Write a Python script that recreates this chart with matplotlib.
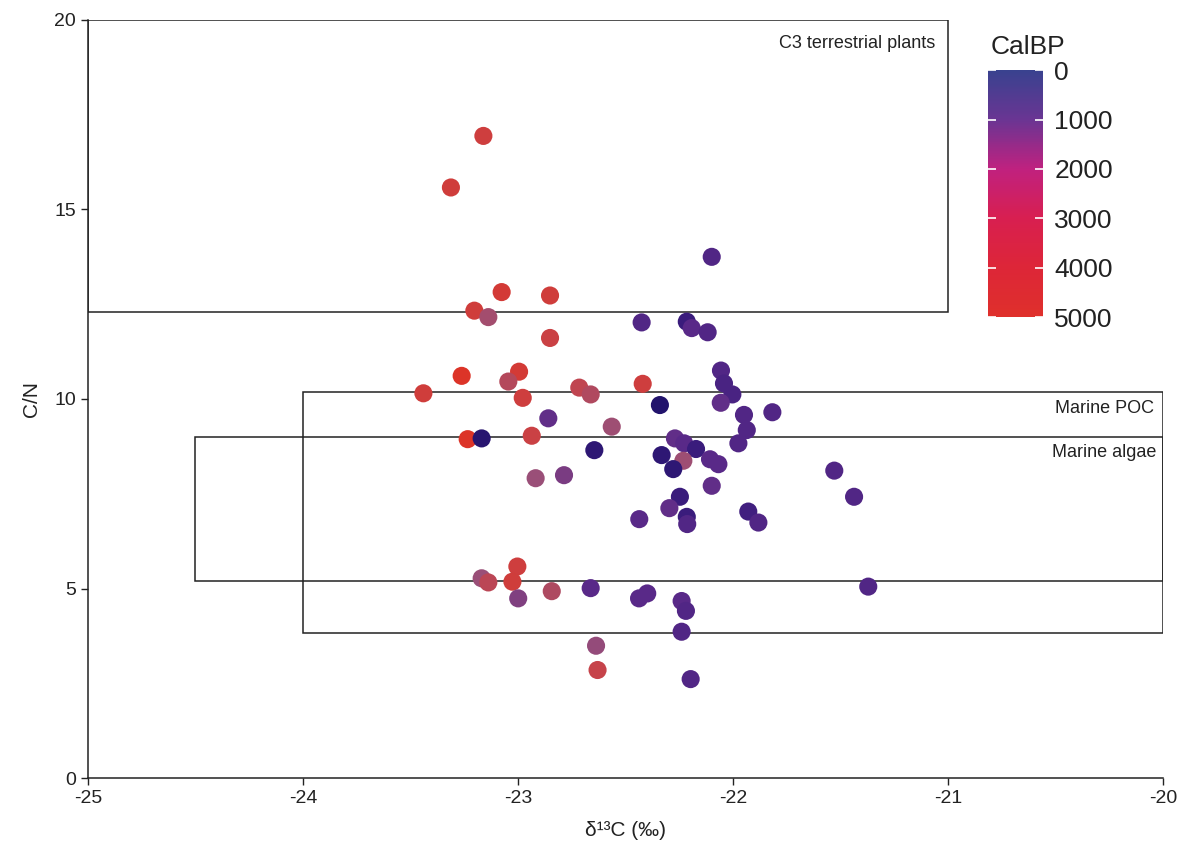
import matplotlib
matplotlib.use("Agg")
import matplotlib.pyplot as plt
from matplotlib.colors import LinearSegmentedColormap, Normalize
from matplotlib.cm import ScalarMappable
from matplotlib.patches import Rectangle
import numpy as np

plt.rcParams['font.family'] = ['Liberation Sans', 'DejaVu Sans']
plt.rcParams['axes.unicode_minus'] = False

# --- data ---
d13C = [-23.161, -23.312, -22.099, -23.076, -22.851, -23.203, -23.138, -22.425, -22.215, -22.192,
        -22.118, -22.851, -22.056, -22.042, -22.003, -22.057, -23.262, -23.440, -22.995, -23.045,
        -22.978, -22.715, -22.662, -22.420, -22.340, -22.859, -22.564, -21.949, -21.817, -21.936,
        -21.975, -23.234, -23.169, -22.936, -22.645, -22.270, -22.227, -22.172, -22.332, -22.231,
        -22.278, -22.107, -22.068, -22.786, -22.918, -21.529, -21.437, -22.099, -22.247, -22.296,
        -22.436, -22.215, -22.213, -21.929, -21.882, -21.371, -23.003, -23.169, -23.138, -23.026,
        -22.999, -22.843, -22.662, -22.437, -22.399, -22.239, -22.219, -22.239, -22.637, -22.630,
        -22.197]
CN = [16.94, 15.58, 13.75, 12.82, 12.73, 12.33, 12.16, 12.02, 12.04, 11.87,
      11.76, 11.61, 10.75, 10.41, 10.12, 9.90, 10.61, 10.15, 10.72, 10.46,
      10.03, 10.30, 10.12, 10.40, 9.84, 9.49, 9.27, 9.58, 9.65, 9.18,
      8.83, 8.94, 8.96, 9.03, 8.65, 8.96, 8.83, 8.68, 8.52, 8.37,
      8.15, 8.41, 8.28, 7.99, 7.91, 8.11, 7.42, 7.71, 7.42, 7.12,
      6.83, 6.89, 6.70, 7.03, 6.74, 5.05, 5.58, 5.27, 5.16, 5.18,
      4.74, 4.93, 5.01, 4.74, 4.87, 4.67, 4.41, 3.86, 3.49, 2.85,
      2.61]
CalBP = [4200, 4300, 700, 4500, 4300, 4300, 2200, 700, 400, 800,
         700, 4000, 700, 600, 600, 900, 5000, 4300, 4500, 3000,
         4200, 3500, 2800, 4200, 0, 900, 2000, 700, 700, 700,
         700, 5000, 100, 4000, 200, 900, 800, 400, 200, 2000,
         200, 800, 800, 1300, 1800, 700, 700, 900, 400, 900,
         800, 400, 700, 500, 700, 700, 4200, 1800, 3300, 4300,
         1400, 2700, 800, 800, 800, 800, 700, 700, 1700, 3800,
         700]

# source boxes: (name, x0, x1, y0, y1)
box_names = ["C3 terrestrial plants", "Marine POC", "Marine algae"]
box_x0 = [-25.0, -24.0, -24.5]
box_x1 = [-21.0, -20.0, -20.0]
box_y0 = [12.3, 3.83, 5.2]
box_y1 = [20.0, 10.18, 9.0]
label_x = [-21.06, -20.04, -20.03]
label_y = [19.39, 9.76, 8.60]

cbar_ticks = [0, 1000, 2000, 3000, 4000, 5000]

# --- colours ---
pt_cmap = LinearSegmentedColormap.from_list("pts", [
    (0.00, "#22136c"), (0.08, "#3a1c7c"), (0.16, "#5a2a89"), (0.26, "#7a3c82"),
    (0.36, "#9a4f78"), (0.56, "#b0495f"), (0.76, "#c6434a"), (1.00, "#dc3428")])
bar_cmap = LinearSegmentedColormap.from_list("bar", [
    (0.00, "#39428f"), (0.2, "#6a3593"), (0.4, "#c0217f"), (0.6, "#d81f50"),
    (0.8, "#dd2638"), (1.00, "#df302b")])
norm = Normalize(0, 5000)

fig = plt.figure(figsize=(11.84, 8.48), dpi=100)
ax = fig.add_axes([0.0743, 0.0825, 0.908, 0.894])

for x0, x1, y0, y1 in zip(box_x0, box_x1, box_y0, box_y1):
    ax.add_patch(Rectangle((x0, y0), x1 - x0, y1 - y0, fill=False,
                           edgecolor="#222222", linewidth=1.1, zorder=1))
for name, lx, ly in zip(box_names, label_x, label_y):
    ax.text(lx, ly, name, ha="right", va="center", fontsize=13, color="#222222")

ax.scatter(d13C, CN, c=CalBP, cmap=pt_cmap, norm=norm, s=170,
           edgecolors="none", zorder=3)

ax.set_xlim(-25, -20)
ax.set_ylim(0, 20)
ax.set_xticks([-25, -24, -23, -22, -21, -20])
ax.set_yticks([0, 5, 10, 15, 20])
for s in ["top", "right"]:
    ax.spines[s].set_visible(False)
for s in ["left", "bottom"]:
    ax.spines[s].set_linewidth(1.1)
    ax.spines[s].set_color("#222222")
ax.tick_params(direction="out", length=5, width=1, labelsize=14, colors="#222222")
ax.set_xlabel("δ¹³C (‰)", fontsize=15, color="#222222", labelpad=10)
ax.set_ylabel("C/N", fontsize=15, color="#222222", labelpad=10)

# colour bar
cax = fig.add_axes([0.8345, 0.626, 0.0465, 0.2913])
sm = ScalarMappable(norm=norm, cmap=bar_cmap)
cb = fig.colorbar(sm, cax=cax, ticks=cbar_ticks)
cb.outline.set_visible(False)
cax.invert_yaxis()
cax.tick_params(axis="y", direction="in", length=6, width=1.2, colors="white",
                left=True, right=True, labelsize=19, labelcolor="#222222", pad=8)
fig.text(1028 / 1184, 1 - 47 / 848, "CalBP", fontsize=19, color="#222222",
         ha="center", va="center")

fig.savefig("out.png", dpi=100)
